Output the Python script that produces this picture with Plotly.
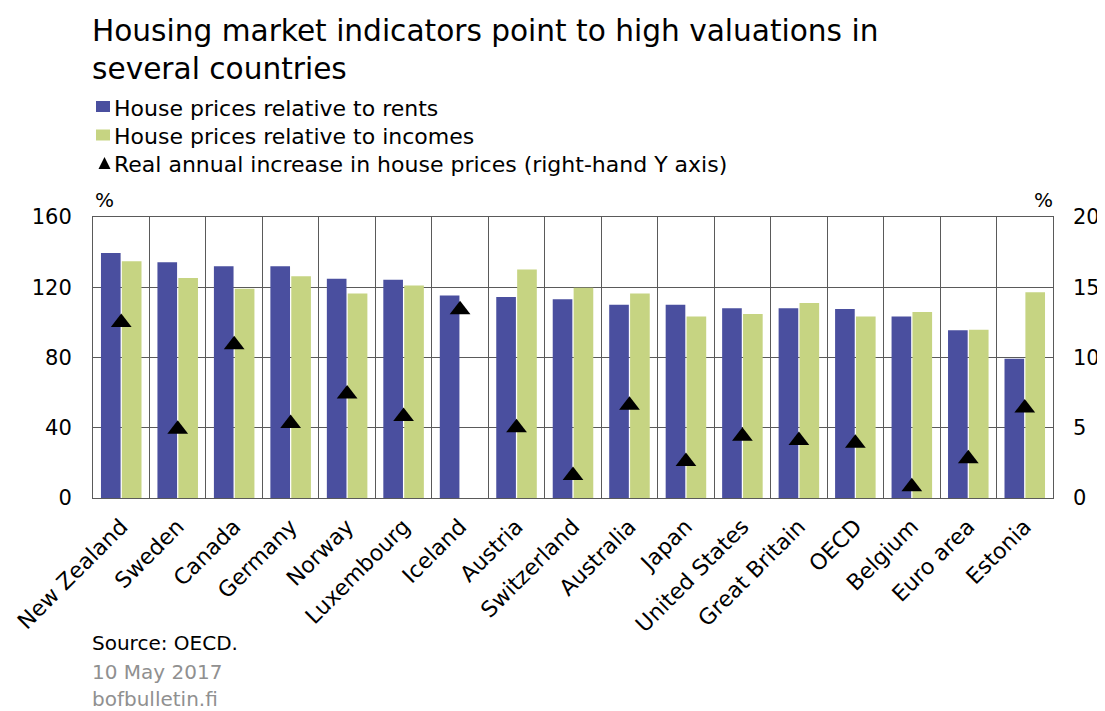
import plotly.graph_objects as go

countries = ["New Zealand", "Sweden", "Canada", "Germany", "Norway", "Luxembourg",
             "Iceland", "Austria", "Switzerland", "Australia", "Japan", "United States",
             "Great Britain", "OECD", "Belgium", "Euro area", "Estonia"]
price_to_rent = [139.5, 134.3, 132.0, 132.0, 124.8, 124.2, 115.3, 114.4, 113.2,
                 110.0, 110.0, 108.0, 108.1, 107.6, 103.4, 95.5, 79.3]
price_to_income = [134.8, 125.2, 119.1, 126.3, 116.5, 121.0, None, 130.1, 119.7,
                   116.5, 103.4, 104.7, 111.1, 103.4, 105.9, 95.8, 117.2]
real_increase = [12.5, 4.9, 10.9, 5.3, 7.4, 5.8, 13.4, 5.0, 1.6,
                 6.6, 2.6, 4.4, 4.1, 3.9, 0.8, 2.8, 6.4]

left_ticks = [0, 40, 80, 120, 160]
right_ticks = [0, 5, 10, 15, 20]

legend_labels = ["House prices relative to rents",
                 "House prices relative to incomes",
                 "Real annual increase in house prices (right-hand Y axis)"]

BLUE = "#4A4F9F"
GREEN = "#C6D482"
GRID = "#5a5a5a"
GREY_TXT = "#909090"
FONT = "DejaVu Sans, Verdana, sans-serif"

# Page body has an 8px margin; layout is expressed in window pixels, then mapped.
PL, PR, PT, PB = 93, 1053, 217, 498          # plot area in window pixels
W, H = 1105 - 8, 711 - 8


def xp(px):
    return (px - PL) / (PR - PL)


def yp(py):
    return (PB - py) / (PB - PT)


fig = go.Figure()
fig.add_trace(go.Bar(x=countries, y=price_to_rent, name=legend_labels[0],
                     marker=dict(color=BLUE, line=dict(width=0)), showlegend=False))
fig.add_trace(go.Bar(x=countries, y=price_to_income, name=legend_labels[1],
                     marker=dict(color=GREEN, line=dict(width=0)), showlegend=False))
fig.add_trace(go.Scatter(x=countries, y=real_increase, yaxis="y2", mode="markers",
                         name=legend_labels[2], showlegend=False,
                         marker=dict(symbol="triangle-up", size=18, color="black")))

fig.update_layout(
    width=W, height=H,
    margin=dict(l=PL - 8, r=W - (PR - 8), t=PT - 8, b=H - (PB - 8), autoexpand=False),
    paper_bgcolor="white", plot_bgcolor="white",
    font=dict(family=FONT, size=21, color="black"),
    barmode="group", bargap=0.26, bargroupgap=0.06,
    xaxis=dict(type="category", range=[-0.5, len(countries) - 0.5], tickangle=-45,
               tickson="boundaries", showgrid=True, gridcolor=GRID, gridwidth=1,
               showline=True, linecolor=GRID, mirror=True, ticks="",
               tickfont=dict(size=22), ticklabelstandoff=6, automargin=False),
    yaxis=dict(range=[0, 160], tickvals=left_ticks, showgrid=True, gridcolor=GRID,
               gridwidth=1, showline=True, linecolor=GRID, mirror=True, ticks="",
               tickfont=dict(size=21), zeroline=False, ticklabelstandoff=16,
               automargin=False),
    yaxis2=dict(range=[0, 20], tickvals=right_ticks, overlaying="y", side="right",
                showgrid=False, ticks="", tickfont=dict(size=21), zeroline=False,
                ticklabelstandoff=19, automargin=False),
    showlegend=False,
)

# Title
fig.add_annotation(text="Housing market indicators point to high valuations in<br>several countries",
                   xref="paper", yref="paper", x=xp(90), y=yp(12), xanchor="left", yanchor="top",
                   align="left", showarrow=False, font=dict(size=29.6, color="black"))

# Manual legend (swatches + labels)
rows_y = [106, 134.5, 162.5]
fig.add_shape(type="rect", xref="paper", yref="paper", x0=xp(96), x1=xp(110),
              y0=yp(112), y1=yp(101), fillcolor=BLUE, line=dict(width=0))
fig.add_shape(type="rect", xref="paper", yref="paper", x0=xp(96), x1=xp(110),
              y0=yp(140.5), y1=yp(129.5), fillcolor=GREEN, line=dict(width=0))
fig.add_shape(type="path", xref="paper", yref="paper",
              path=f"M {xp(98.5)} {yp(169)} L {xp(110.5)} {yp(169)} L {xp(104.5)} {yp(157)} Z",
              fillcolor="black", line=dict(width=0))
for label, ry in zip(legend_labels, rows_y):
    fig.add_annotation(text=label, xref="paper", yref="paper", x=xp(112), y=yp(ry + 2),
                       xanchor="left", yanchor="middle", showarrow=False,
                       font=dict(size=22, color="black"))

# Axis unit labels
fig.add_annotation(text="%", xref="paper", yref="paper", x=xp(93), y=yp(200),
                   xanchor="left", yanchor="middle", showarrow=False, font=dict(size=20))
fig.add_annotation(text="%", xref="paper", yref="paper", x=xp(1055), y=yp(200),
                   xanchor="right", yanchor="middle", showarrow=False, font=dict(size=20))

# Footer
fig.add_annotation(text="Source: OECD.", xref="paper", yref="paper", x=xp(90), y=yp(643),
                   xanchor="left", yanchor="middle", showarrow=False,
                   font=dict(size=20, color="black"))
fig.add_annotation(text="10 May 2017", xref="paper", yref="paper", x=xp(90), y=yp(672),
                   xanchor="left", yanchor="middle", showarrow=False,
                   font=dict(size=20, color=GREY_TXT))
fig.add_annotation(text="bofbulletin.fi", xref="paper", yref="paper", x=xp(90), y=yp(699),
                   xanchor="left", yanchor="middle", showarrow=False,
                   font=dict(size=20, color=GREY_TXT))

fig.write_html("out.html")
